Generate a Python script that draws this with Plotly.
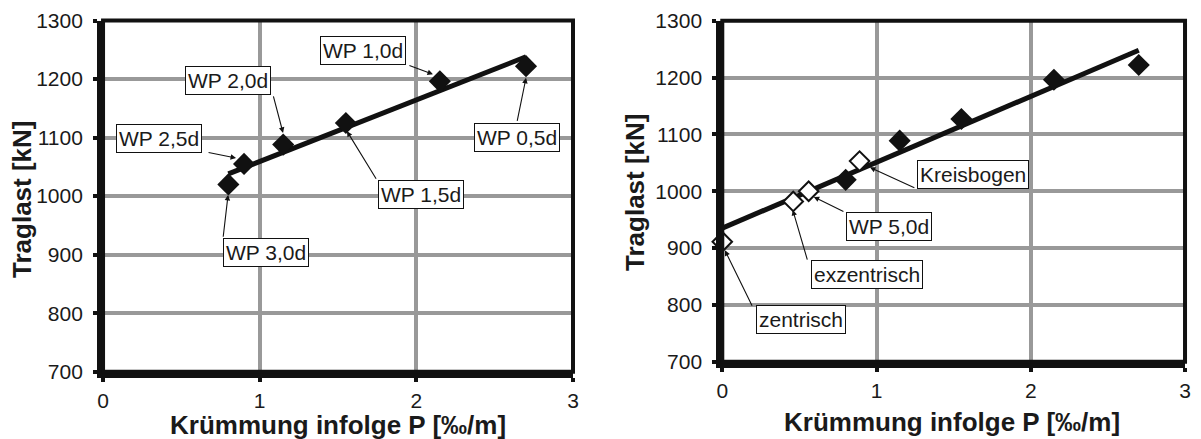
import plotly.graph_objects as go

# ---------------- data ----------------
# left chart: Traglast vs. Krümmung for different WP positions
wp_labels = ["WP 3,0d", "WP 2,5d", "WP 2,0d", "WP 1,5d", "WP 1,0d", "WP 0,5d"]
wp_x = [0.80, 0.90, 1.15, 1.55, 2.15, 2.70]
wp_y = [1020, 1055, 1088, 1125, 1196, 1222]

trend_left_x = [0.80, 2.70]
trend_left_y = [1038, 1238]

# right chart: filled (same series without WP 2,5d) + open special cases
right_fill_x = [0.80, 1.15, 1.55, 2.15, 2.70]
right_fill_y = [1020, 1089, 1127, 1196, 1222]

open_labels = ["zentrisch", "exzentrisch", "WP 5,0d", "Kreisbogen"]
open_x = [0.00, 0.46, 0.56, 0.89]
open_y = [911, 982, 1000, 1053]

trend_right_x = [0.0, 2.70]
trend_right_y = [935, 1248]

x_ticks = [0, 1, 2, 3]
y_ticks = [700, 800, 900, 1000, 1100, 1200, 1300]

x_title = "Krümmung infolge P [‰/m]"
y_title = "Traglast [kN]"

# ---------------- figure ----------------
FONT = "Liberation Sans, Arial, sans-serif"
TXT = "#1a1a1a"
GRID = "#999999"

fig = go.Figure()

# left
fig.add_trace(go.Scatter(x=trend_left_x, y=trend_left_y, mode="lines",
                         line=dict(color="#111111", width=5), xaxis="x", yaxis="y",
                         showlegend=False, hoverinfo="skip"))
fig.add_trace(go.Scatter(x=wp_x, y=wp_y, mode="markers", text=wp_labels,
                         marker=dict(symbol="diamond", size=17, color="#111111"),
                         xaxis="x", yaxis="y", showlegend=False, cliponaxis=False))
# right
fig.add_trace(go.Scatter(x=trend_right_x, y=trend_right_y, mode="lines",
                         line=dict(color="#111111", width=5), xaxis="x2", yaxis="y2",
                         showlegend=False, hoverinfo="skip"))
fig.add_trace(go.Scatter(x=right_fill_x, y=right_fill_y, mode="markers",
                         marker=dict(symbol="diamond", size=17, color="#111111"),
                         xaxis="x2", yaxis="y2", showlegend=False, cliponaxis=False))
fig.add_trace(go.Scatter(x=open_x, y=open_y, mode="markers", text=open_labels,
                         marker=dict(symbol="diamond", size=15, color="white",
                                     line=dict(color="#111111", width=2)),
                         xaxis="x2", yaxis="y2", showlegend=False, cliponaxis=False))

axis_common = dict(showgrid=True, gridcolor=GRID, gridwidth=4, zeroline=False,
                   showline=True, linecolor="#111111", linewidth=6,
                   ticks="outside", ticklen=4, tickwidth=4, tickcolor="#111111",
                   automargin=False,
                   tickfont=dict(family=FONT, size=21, color=TXT))

fig.update_layout(
    width=1201, height=439,
    margin=dict(l=0, r=0, t=0, b=0, pad=0, autoexpand=False),
    paper_bgcolor="white", plot_bgcolor="white",
    xaxis=dict(domain=[0.0858, 0.4771], range=[0, 3], tickvals=x_ticks,
               anchor="y", ticklabelstandoff=1, **axis_common),
    yaxis=dict(domain=[0.1533, 0.9533], range=[700, 1300], tickvals=y_ticks,
               anchor="x", ticklabelstandoff=6, **axis_common),
    xaxis2=dict(domain=[0.6014, 0.9867], range=[0, 3], tickvals=x_ticks,
                anchor="y2", ticklabelstandoff=1, **axis_common),
    yaxis2=dict(domain=[0.1761, 0.9528], range=[700, 1300], tickvals=y_ticks,
                anchor="x2", ticklabelstandoff=6, **axis_common),
)

# frame (top/right thinner lines)
for xr, yr in (("x", "y"), ("x2", "y2")):
    fig.add_shape(type="rect", xref=f"{xr} domain", yref=f"{yr} domain",
                  x0=0, x1=1, y0=0, y1=1, line=dict(color="#111111", width=4),
                  layer="above")

# ---------------- annotations ----------------
ann = []

def label(text, x, y, xr, yr):
    ann.append(dict(text=text, x=x, y=y, xref=xr, yref=yr, showarrow=False,
                    font=dict(family=FONT, size=21, color=TXT),
                    bgcolor="white", bordercolor="#111111", borderwidth=1,
                    borderpad=2))

def arrow(x0, y0, x1, y1, xr, yr):
    ann.append(dict(text="", x=x1, y=y1, ax=x0, ay=y0, xref=xr, yref=yr,
                    axref=xr, ayref=yr, showarrow=True, arrowhead=2,
                    arrowsize=1, arrowwidth=1.1, arrowcolor="#111111", standoff=0))

# left arrows (tail -> head at point)
arrow(1.085, 1173, 1.149, 1108, "x", "y")   # WP 2,0d
arrow(0.664, 1075, 0.849, 1065, "x", "y")   # WP 2,5d
arrow(0.766, 928, 0.798, 1002, "x", "y")    # WP 3,0d
arrow(1.749, 1027, 1.557, 1111, "x", "y")   # WP 1,5d
arrow(1.946, 1224, 2.106, 1208, "x", "y")   # WP 1,0d
arrow(2.642, 1126, 2.700, 1202, "x", "y")   # WP 0,5d

label("WP 2,0d", 0.80, 1197, "x", "y")
label("WP 2,5d", 0.36, 1099, "x", "y")
label("WP 3,0d", 1.043, 903, "x", "y")
label("WP 1,5d", 2.03, 1002, "x", "y")
label("WP 1,0d", 1.66, 1249, "x", "y")
label("WP 0,5d", 2.645, 1100, "x", "y")

# right arrows
arrow(1.255, 1005, 0.957, 1042, "x2", "y2")  # Kreisbogen
arrow(0.795, 963, 0.593, 990, "x2", "y2")    # WP 5,0d
arrow(0.554, 877, 0.457, 967, "x2", "y2")    # exzentrisch
arrow(0.198, 796, 0.017, 896, "x2", "y2")    # zentrisch

label("Kreisbogen", 1.625, 1030, "x2", "y2")
label("WP 5,0d", 1.08, 938, "x2", "y2")
label("exzentrisch", 0.938, 854, "x2", "y2")
label("zentrisch", 0.513, 775, "x2", "y2")

# axis titles
title_font = dict(family=FONT, size=26, color=TXT)
ann.append(dict(text=f"<b>{x_title}</b>", x=337.5 / 1201, y=1 - 425 / 439,
                xref="paper", yref="paper", showarrow=False, font=title_font,
                xanchor="center", yanchor="middle"))
ann.append(dict(text=f"<b>{x_title}</b>", x=951.5 / 1201, y=1 - 422 / 439,
                xref="paper", yref="paper", showarrow=False, font=title_font,
                xanchor="center", yanchor="middle"))
ann.append(dict(text=f"<b>{y_title}</b>", x=22 / 1201, y=1 - 199 / 439,
                xref="paper", yref="paper", showarrow=False, font=title_font,
                textangle=-90, xanchor="center", yanchor="middle"))
ann.append(dict(text=f"<b>{y_title}</b>", x=635 / 1201, y=1 - 192 / 439,
                xref="paper", yref="paper", showarrow=False, font=title_font,
                textangle=-90, xanchor="center", yanchor="middle"))

fig.update_layout(annotations=ann)

fig.write_html("out.html", config={"displayModeBar": False},
               post_script="document.body.style.margin='0';document.body.style.overflow='hidden';")
